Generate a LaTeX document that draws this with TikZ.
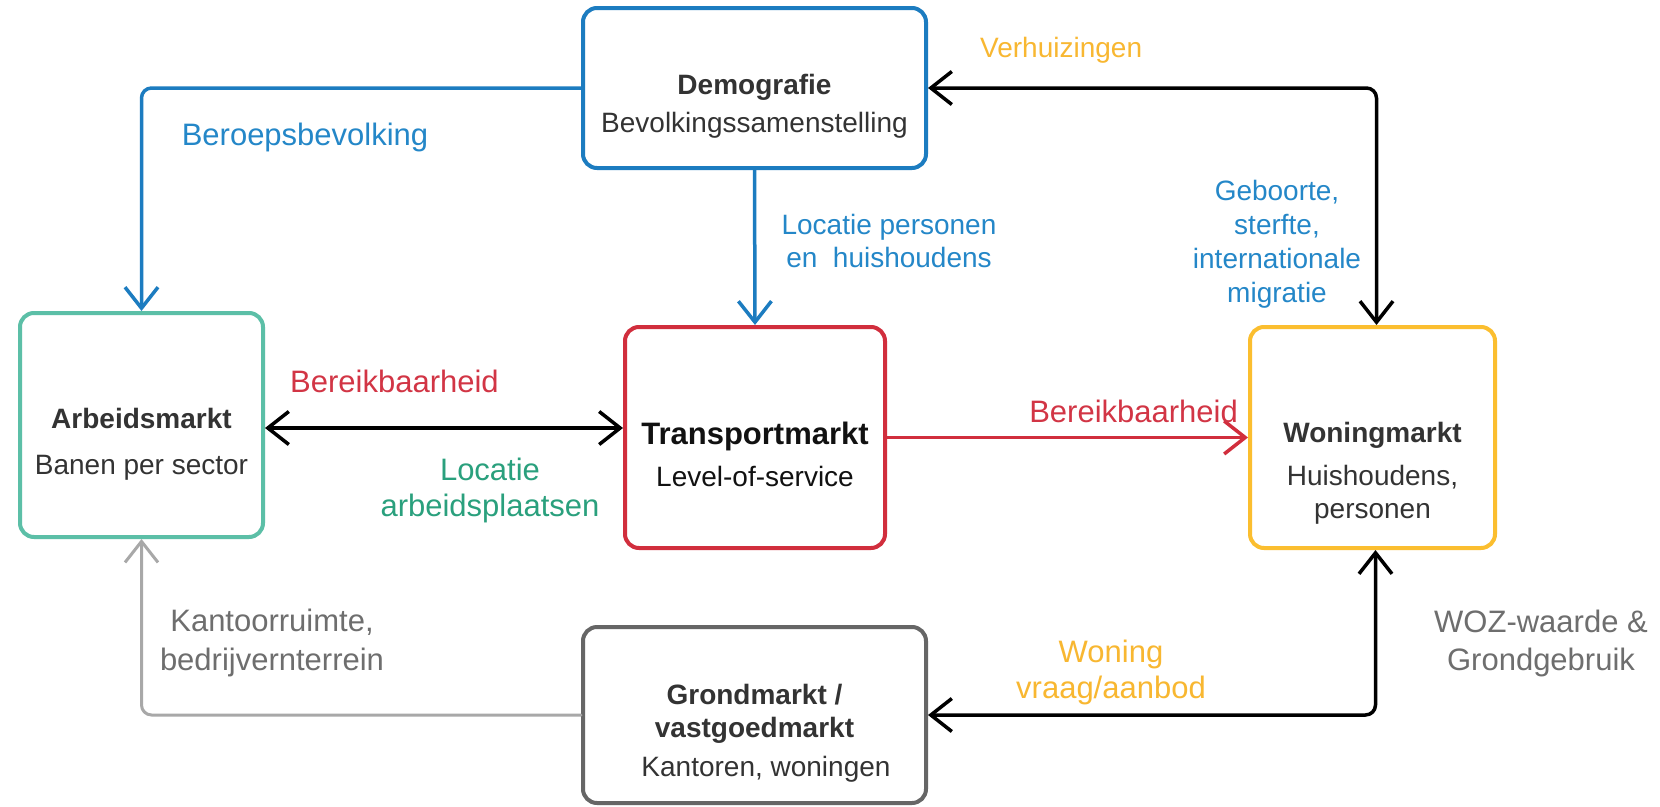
\documentclass[tikz,border=0pt]{standalone}
\usepackage{fontspec}
\setmainfont{Liberation Sans}
\usetikzlibrary{arrows.meta}
\definecolor{cblue}{HTML}{1C7CC0}
\definecolor{cteal}{HTML}{5CBFA7}
\definecolor{cred}{HTML}{D12E3D}
\definecolor{cyellow}{HTML}{FBBE2F}
\definecolor{cgreybox}{HTML}{666666}
\definecolor{cgreyline}{HTML}{A8A8A8}
\definecolor{lblue}{HTML}{2487C8}
\definecolor{lgreen}{HTML}{2AA07D}
\definecolor{lred}{HTML}{D23545}
\definecolor{lyellow}{HTML}{F8B731}
\definecolor{lgrey}{HTML}{6E6E6E}
\definecolor{ctext}{HTML}{333333}
\definecolor{ctextdark}{HTML}{111111}
\newcommand\fsA{\fontsize{28pt}{34pt}\selectfont}
\newcommand\fsB{\fontsize{31pt}{37pt}\selectfont}
\newcommand\fsT{\fontsize{31pt}{37pt}\selectfont\bfseries}
\tikzset{
  myhead/.tip={Straight Barb[length=21pt,width=33pt]},
  box/.style={draw, line width=4pt, rounded corners=14pt, inner sep=0pt, fill=white},
  conn/.style={line width=3.5pt, rounded corners=10pt, line cap=round, line join=round},
  ln/.style={anchor=base, inner sep=0pt, text=ctext, font=\fsA},
  lab/.style={anchor=base, inner sep=0pt, font=\fsB},
}
\begin{document}
\begin{tikzpicture}[x=1pt,y=-1pt]
\fill[white] (0,0) rectangle (1660,806);
\useasboundingbox (0,0) rectangle (1660,806);

% boxes
\node[box, draw=cblue, minimum width=343pt, minimum height=160pt] (demo) at (754.5,88) {};
\node[box, draw=cteal, minimum width=243pt, minimum height=224pt] (arb) at (141.5,425) {};
\node[box, draw=cred, minimum width=260pt, minimum height=221pt] (trans) at (755,437.5) {};
\node[box, draw=cyellow, minimum width=245pt, minimum height=221pt] (won) at (1372.5,437.5) {};
\node[box, draw=cgreybox, minimum width=343pt, minimum height=176pt] (grond) at (754.5,715) {};

% box texts
\node[ln] (demoA) at (754.5,94) {\bfseries Demografie};
\node[ln] (demoB) at (754.5,132) {Bevolkingssamenstelling};
\node[ln] (arbA) at (141.5,428) {\bfseries Arbeidsmarkt};
\node[ln] (arbB) at (141.5,474) {Banen per sector};
\node[ln, text=ctextdark, font=\fsT] (transA) at (755,444) {Transportmarkt};
\node[ln, text=ctextdark] (transB) at (755,486) {Level-of-service};
\node[ln] (wonA) at (1372.5,442) {\bfseries Woningmarkt};
\node[ln] (wonB) at (1372.5,485) {Huishoudens,};
\node[ln] (wonC) at (1372.5,518) {personen};
\node[ln] (grondA) at (754.5,704) {\bfseries Grondmarkt /};
\node[ln] (grondB) at (754.5,737) {\bfseries vastgoedmarkt};
\node[ln] (grondC) at (766,776) {Kantoren, woningen};

% connectors
\draw[conn, cblue, -myhead] (demo.west) -| (arb.north);
\draw[conn, cblue, -myhead] (demo.south) -- (trans.north);
\draw[conn, black, myhead-myhead] (demo.east) -| ([xshift=4pt]won.north);
\draw[conn, black, myhead-myhead] ([yshift=-3pt]arb.east) -- ([yshift=-3pt]arb.east -| trans.west);
\draw[conn, cred, -myhead] (trans.east) -- (won.west);
\draw[conn, cgreyline, line width=3pt, -myhead] (grond.west) -| (arb.south);
\draw[conn, black, myhead-myhead] (grond.east) -| ([xshift=3pt]won.south);

% labels
\node[lab, text=lyellow, font=\fsA, anchor=base west] (verh) at (980,57) {Verhuizingen};
\node[lab, text=lblue] (beroep) at (305,145) {Beroepsbevolking};
\node[lab, text=lblue, font=\fsA] (locpA) at (889,234) {Locatie personen};
\node[lab, text=lblue, font=\fsA] (locpB) at (889,267) {en~~huishoudens};
\node[lab, text=lblue, font=\fsA] (gebA) at (1277,200) {Geboorte,};
\node[lab, text=lblue, font=\fsA] (gebB) at (1277,234) {sterfte,};
\node[lab, text=lblue, font=\fsA] (gebC) at (1277,268) {internationale};
\node[lab, text=lblue, font=\fsA] (gebD) at (1277,302) {migratie};
\node[lab, text=lred, anchor=base west] (berA) at (290,392) {Bereikbaarheid};
\node[lab, text=lgreen] (locaA) at (490,480) {Locatie};
\node[lab, text=lgreen] (locaB) at (490,516) {arbeidsplaatsen};
\node[lab, text=lred, anchor=base east] (berB) at (1238,422) {Bereikbaarheid};
\node[lab, text=lgrey] (kantA) at (272,631) {Kantoorruimte,};
\node[lab, text=lgrey] (kantB) at (272,670) {bedrijvernterrein};
\node[lab, text=lyellow] (wvA) at (1111,662) {Woning};
\node[lab, text=lyellow] (wvB) at (1111,698) {vraag/aanbod};
\node[lab, text=lgrey] (wozA) at (1541,632) {WOZ-waarde \&};
\node[lab, text=lgrey] (wozB) at (1541,670) {Grondgebruik};
\end{tikzpicture}
\end{document}
